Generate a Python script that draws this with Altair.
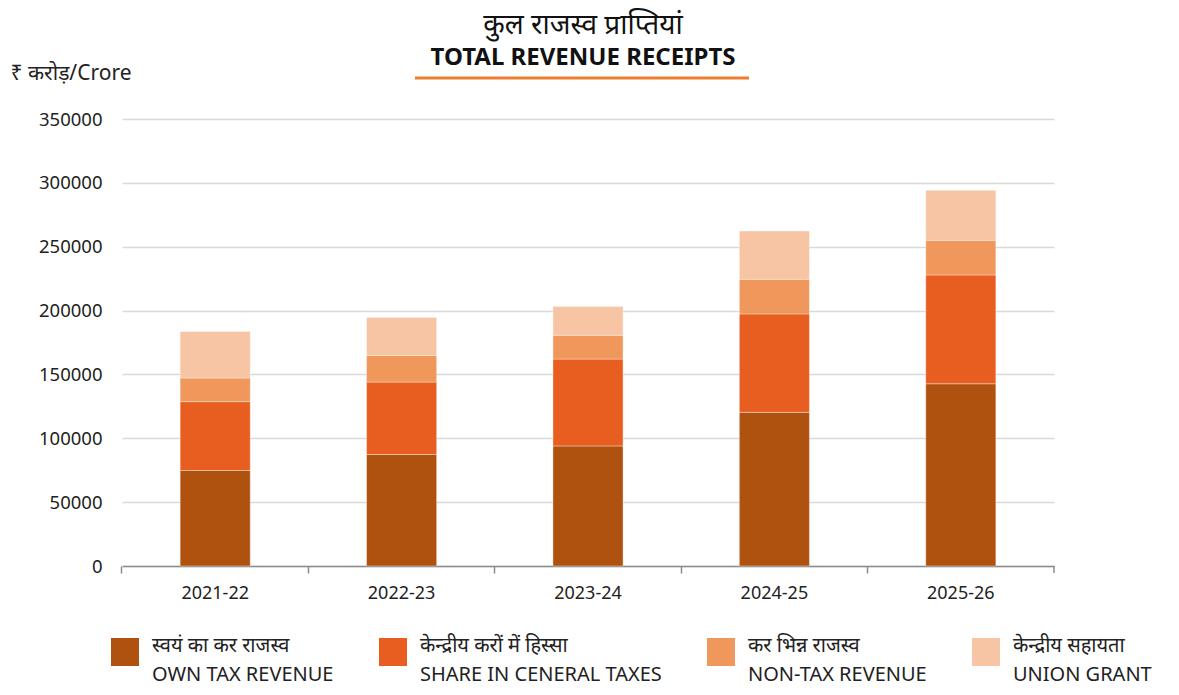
import altair as alt
import pandas as pd

years = ["2021-22", "2022-23", "2023-24", "2024-25", "2025-26"]
own_tax = [74800, 87300, 94000, 120300, 142700]
share_taxes = [53900, 56700, 68000, 77100, 85200]
non_tax = [18500, 20800, 18700, 27100, 27100]
union_grant = [36400, 29700, 22400, 37800, 39300]

series_names = [
    "स्वयं का कर राजस्व|OWN TAX REVENUE",
    "केन्द्रीय करों में हिस्सा|SHARE IN CENERAL TAXES",
    "कर भिन्न राजस्व|NON-TAX REVENUE",
    "केन्द्रीय सहायता|UNION GRANT",
]
series_colors = ["#B0520F", "#E85E21", "#F0975B", "#F7C4A4"]

rows = []
for si, vals in enumerate([own_tax, share_taxes, non_tax, union_grant]):
    for y, v in zip(years, vals):
        rows.append({"year": y, "series": series_names[si], "order": si, "value": v})
df = pd.DataFrame(rows)

FONT = "Noto Sans, Noto Sans Devanagari, Lohit Devanagari, sans-serif"

bars = alt.Chart(df).mark_bar(stroke="white", strokeWidth=0.6, strokeOpacity=0.6).encode(
    x=alt.X("year:N", sort=years, title=None,
            scale=alt.Scale(paddingInner=0.624, paddingOuter=0.312),
            axis=alt.Axis(labelAngle=0, labelFontSize=18, labelColor="#222",
                          labelPadding=11, domainColor="#8c8c8c", domainWidth=1.5,
                          tickColor="#8c8c8c", tickWidth=1.5, tickSize=7,
                          bandPosition=-0.831, grid=False)),
    y=alt.Y("value:Q", stack="zero",
            scale=alt.Scale(domain=[0, 350000]),
            axis=alt.Axis(values=[0, 50000, 100000, 150000, 200000, 250000, 300000, 350000],
                          format="d", labelFontSize=18.5, labelColor="#222",
                          labelPadding=20, domain=False, ticks=False,
                          gridColor="#d9d9d9", gridWidth=1.6,
                          title="₹ करोड़/Crore", titleAngle=0, titleAlign="left",
                          titleBaseline="middle", titleX=-112, titleY=-46,
                          titleFontSize=21, titleFontWeight="normal", titleColor="#222")),
    color=alt.Color("series:N", sort=series_names,
                    scale=alt.Scale(domain=series_names, range=series_colors),
                    legend=alt.Legend(title=None, orient="none", legendX=-11, legendY=519,
                                      direction="horizontal", columns=4,
                                      symbolType="square", symbolSize=784,
                                      symbolStrokeWidth=0, labelFontSize=20,
                                      labelColor="#222", labelOffset=13,
                                      labelBaseline="alphabetic",
                                      columnPadding=45, labelLimit=400,
                                      labelExpr="split(datum.label, '|')")),
    order=alt.Order("order:Q"),
)

end_tick = alt.Chart(pd.DataFrame({"t": [0]})).mark_rule(color="#8c8c8c", strokeWidth=1.5).encode(
    x=alt.value(932), y=alt.value(447), y2=alt.value(454)
)

underline = alt.Chart(pd.DataFrame({"t": [0]})).mark_rule(color="#ED7D31", strokeWidth=3).encode(
    x=alt.value(293), x2=alt.value(627), y=alt.value(-41)
)

chart = alt.layer(bars, end_tick, underline).properties(
    width=932, height=447,
    autosize=alt.AutoSizeParams(type="none"),
    padding={"left": 114, "top": 111, "right": 110, "bottom": 120},
    title=alt.TitleParams(
        text="कुल राजस्व प्राप्तियां",
        subtitle="TOTAL REVENUE RECEIPTS",
        anchor="middle", dx=-5, offset=-8,
        fontSize=28, fontWeight="normal", color="#111",
        subtitleFontSize=24, subtitleFontWeight="bold", subtitleColor="#111",
        subtitlePadding=6,
    ),
).configure(
    font=FONT,
    style={"guide-label": {"lineHeight": 29}},
).configure_view(stroke=None)

chart.save("out.html", embed_options={"renderer": "svg", "actions": False})
